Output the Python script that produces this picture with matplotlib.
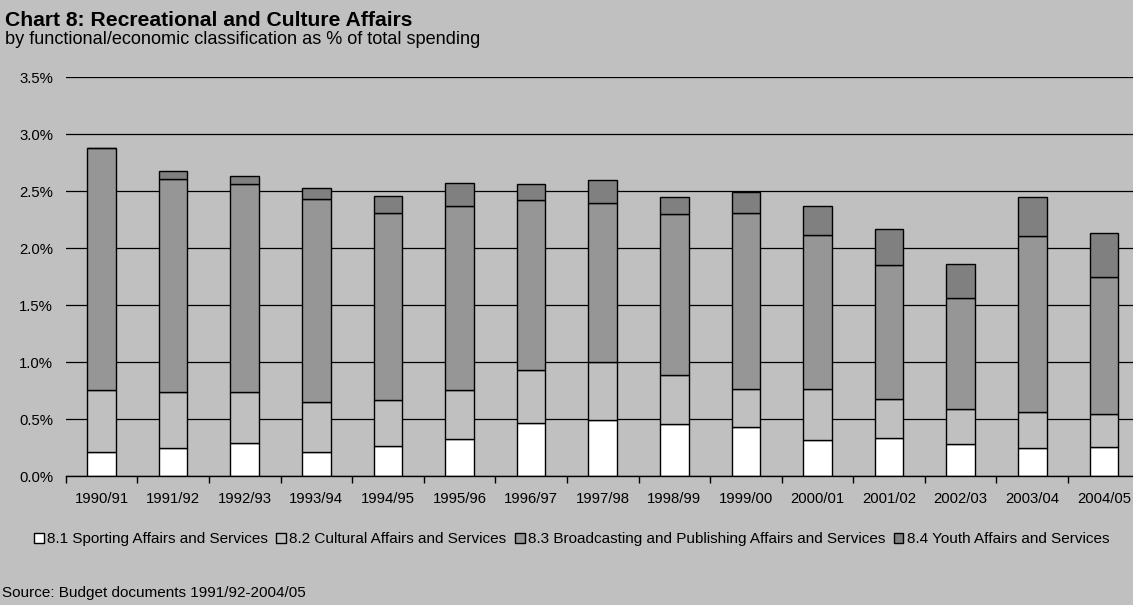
import matplotlib
matplotlib.use("Agg")
import matplotlib.pyplot as plt
from matplotlib.patches import Patch
import numpy as np

plt.rcParams['font.family'] = ['Liberation Sans', 'DejaVu Sans']

years = ["1990/91", "1991/92", "1992/93", "1993/94", "1994/95", "1995/96", "1996/97",
         "1997/98", "1998/99", "1999/00", "2000/01", "2001/02", "2002/03", "2003/04", "2004/05"]
sporting = [0.21, 0.25, 0.29, 0.21, 0.27, 0.33, 0.47, 0.49, 0.46, 0.43, 0.32, 0.34, 0.28, 0.25, 0.26]
cultural = [0.55, 0.49, 0.45, 0.44, 0.40, 0.43, 0.46, 0.51, 0.43, 0.34, 0.45, 0.34, 0.31, 0.31, 0.29]
broadcasting = [2.12, 1.87, 1.82, 1.78, 1.64, 1.61, 1.49, 1.40, 1.41, 1.54, 1.35, 1.17, 0.97, 1.55, 1.20]
youth = [0.00, 0.07, 0.07, 0.10, 0.15, 0.20, 0.14, 0.20, 0.15, 0.18, 0.25, 0.32, 0.30, 0.34, 0.38]

series_names = ["8.1 Sporting Affairs and Services", "8.2 Cultural Affairs and Services",
                "8.3 Broadcasting and Publishing Affairs and Services", "8.4 Youth Affairs and Services"]
colors = ["#FFFFFF", "#C0C0C0", "#969696", "#808080"]
yticks = [0.0, 0.5, 1.0, 1.5, 2.0, 2.5, 3.0, 3.5]

BG = "#C0C0C0"
W, H = 1133, 605
fig = plt.figure(figsize=(W / 100, H / 100), dpi=100, facecolor=BG)
ax = fig.add_axes([65.7 / W, (H - 476.3) / H, 15 * 71.6 / W, (476.3 - 77.3) / H])
ax.set_facecolor(BG)

x = np.arange(len(years))
bottom = np.zeros(len(years))
for vals, col in zip([sporting, cultural, broadcasting, youth], colors):
    v = np.array(vals)
    ax.bar(x, v, width=0.4, bottom=bottom, color=col, edgecolor="black", linewidth=1.0, zorder=3)
    bottom += v

ax.set_xlim(-0.5, len(years) - 0.5)
ax.set_ylim(0, 3.5)
ax.set_yticks(yticks)
ax.set_yticklabels([f"{t:.1f}%" for t in yticks], fontsize=10.7)
ax.tick_params(axis='y', length=0, pad=9)
ax.yaxis.grid(True, color="black", linewidth=0.9, zorder=0)
ax.set_axisbelow(True)

ax.set_xticks(np.arange(-0.5, len(years), 1.0))
ax.set_xticklabels([])
ax.tick_params(axis='x', which='major', direction='out', length=5, width=1, color='black')
ax.set_xticks(x, minor=True)
ax.set_xticklabels(years, minor=True, fontsize=10.7)
ax.tick_params(axis='x', which='minor', length=0, pad=11)

for s in ['top', 'right', 'left']:
    ax.spines[s].set_visible(False)
ax.spines['bottom'].set_color('black')
ax.spines['bottom'].set_linewidth(1.0)
ax.spines['bottom'].set_zorder(4)

handles = [Patch(facecolor=c, edgecolor='black', linewidth=1.0) for c in colors]
fig.legend(handles, series_names, loc='center', bbox_to_anchor=(571.5 / W, (H - 539) / H),
           ncol=4, frameon=False, fontsize=11, handlelength=0.65, handleheight=0.65,
           handletextpad=0.2, columnspacing=0.55)

fig.text(5 / W, (H - 25.5) / H, "Chart 8: Recreational and Culture Affairs",
         fontsize=15.2, fontweight='bold', va='baseline', ha='left')
fig.text(5 / W, (H - 44) / H, "by functional/economic classification as % of total spending",
         fontsize=13.1, va='baseline', ha='left')
fig.text(2 / W, (H - 597) / H, "Source: Budget documents 1991/92-2004/05",
         fontsize=11, va='baseline', ha='left')

fig.savefig("out.png", dpi=100, facecolor=BG)
